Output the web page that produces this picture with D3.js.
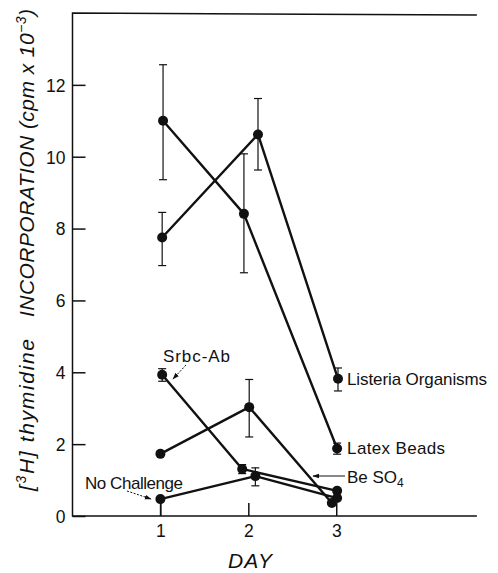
<!DOCTYPE html>
<html>
<head>
<meta charset="utf-8">
<script src="https://cdn.jsdelivr.net/npm/d3@7"></script>
<style>
  html, body { margin: 0; padding: 0; background: #fff; overflow: hidden; }
  svg { display: block; overflow: hidden; }
  text { font-family: "Liberation Sans", Arial, Helvetica, sans-serif; fill: #111; }
</style>
</head>
<body>
<svg id="chart" width="498" height="573"></svg>
<script>
// Day positions and tick labels
const dayTicks = [1, 2, 3];
const yTicks = [0, 2, 4, 6, 8, 10, 12];

// Listeria organisms
const listeriaX  = [1.02, 2.11, 3.02];
const listeriaY  = [7.75, 10.62, 3.82];
const listeriaLo = [6.97, 9.63, 3.48];
const listeriaHi = [8.45, 11.62, 4.12];

// Latex beads
const latexX  = [1.03, 1.95, 3.01];
const latexY  = [11.0, 8.41, 1.88];
const latexLo = [9.36, 6.77, 1.72];
const latexHi = [12.56, 10.08, 2.03];

// Srbc-Ab
const srbcX  = [1.02, 1.93, 3.01];
const srbcY  = [3.93, 1.31, 0.70];
const srbcLo = [3.75, 1.18, null];
const srbcHi = [4.10, 1.43, null];

// BeSO4
const besoX  = [1.0, 2.01, 2.95];
const besoY  = [1.73, 3.03, 0.36];
const besoLo = [null, 2.20, null];
const besoHi = [null, 3.80, null];

// No challenge
const noneX  = [1.0, 2.08, 3.01];
const noneY  = [0.47, 1.11, 0.50];
const noneLo = [0.0, 0.84, null];
const noneHi = [0.47, 1.34, null];

const svg = d3.select("#chart");
const ink = "#111";

const x = d3.scaleLinear().domain([0, 4.84]).range([72.5, 498]);
const y = d3.scaleLinear().domain([0, 14]).range([516, 13]);

// Frame: top rule, left axis and bottom axis as one open path (no right side)
const xEnd = 4.6;
const framePath = d3.path();
framePath.moveTo(x(xEnd), y(14) + 2);
framePath.lineTo(x(0), y(14));
framePath.lineTo(x(0), y(0));
framePath.lineTo(x(xEnd), y(0));
svg.append("path")
  .attr("d", framePath.toString())
  .attr("fill", "none").attr("stroke", ink).attr("stroke-width", 1.5);

// Y axis with inward ticks
const yAxis = d3.axisRight(y).tickValues(yTicks).tickSize(13).tickSizeOuter(0).tickFormat(d3.format("d"));
const gy = svg.append("g").attr("transform", `translate(${x(0)},0)`).call(yAxis);
gy.select(".domain").remove();
gy.selectAll(".tick line").attr("stroke", ink).attr("stroke-width", 1.5);
gy.selectAll(".tick text")
  .attr("x", -7).attr("dy", "0.36em")
  .attr("text-anchor", "end")
  .style("font-size", "17.5px")
  .style("font-family", "'Liberation Sans', Arial, sans-serif")
  .attr("fill", ink);

// X axis with inward ticks
const xAxis = d3.axisTop(x).tickValues(dayTicks).tickSize(13).tickSizeOuter(0).tickFormat(d3.format("d"));
const gx = svg.append("g").attr("transform", `translate(0,${y(0)})`).call(xAxis);
gx.select(".domain").remove();
gx.selectAll(".tick line").attr("stroke", ink).attr("stroke-width", 1.5);
gx.selectAll(".tick text")
  .attr("y", 21).attr("dy", 0)
  .attr("text-anchor", "middle")
  .style("font-size", "17.5px")
  .style("font-family", "'Liberation Sans', Arial, sans-serif")
  .attr("fill", ink);

// Axis titles
svg.append("text")
  .attr("x", 250).attr("y", 568)
  .attr("text-anchor", "middle")
  .style("font-size", "21px").style("font-style", "italic")
  .attr("textLength", 44).attr("lengthAdjust", "spacing")
  .text("DAY");

const yTitle = svg.append("g").attr("transform", "translate(34,0) rotate(-90)");
const t1 = yTitle.append("text")
  .attr("x", -491).attr("y", 0)
  .style("font-size", "21px").style("font-style", "italic")
  .attr("textLength", 152).attr("lengthAdjust", "spacing");
t1.append("tspan").text("[");
t1.append("tspan").attr("dy", -8).style("font-size", "14px").text("3");
t1.append("tspan").attr("dy", 8).text("H] thymidine");

const t2 = yTitle.append("text")
  .attr("x", -317).attr("y", 0)
  .style("font-size", "21px").style("font-style", "italic")
  .attr("textLength", 308).attr("lengthAdjust", "spacing");
t2.append("tspan").text("INCORPORATION (cpm x 10");
t2.append("tspan").attr("dy", -8).style("font-size", "14px").text("\u22123");
t2.append("tspan").attr("dy", 8).text(")");

// Series
const series = [
  { xs: listeriaX, ys: listeriaY, lo: listeriaLo, hi: listeriaHi },
  { xs: latexX, ys: latexY, lo: latexLo, hi: latexHi },
  { xs: srbcX, ys: srbcY, lo: srbcLo, hi: srbcHi },
  { xs: besoX, ys: besoY, lo: besoLo, hi: besoHi },
  { xs: noneX, ys: noneY, lo: noneLo, hi: noneHi }
];

const line = d3.line().x(d => x(d[0])).y(d => y(d[1]));
const plot = svg.append("g");

series.forEach(s => {
  const pts = s.xs.map((xv, i) => [xv, s.ys[i], s.lo[i], s.hi[i]]);
  // error bars
  const eb = plot.append("g").attr("stroke", ink).attr("stroke-width", 1.2);
  pts.filter(p => p[2] !== null).forEach(p => {
    eb.append("line").attr("x1", x(p[0])).attr("x2", x(p[0])).attr("y1", y(p[2])).attr("y2", y(p[3]));
    if (p[2] > 0) eb.append("line").attr("x1", x(p[0]) - 4).attr("x2", x(p[0]) + 4).attr("y1", y(p[2])).attr("y2", y(p[2]));
    eb.append("line").attr("x1", x(p[0]) - 4).attr("x2", x(p[0]) + 4).attr("y1", y(p[3])).attr("y2", y(p[3]));
  });
  plot.append("path").datum(pts).attr("d", line)
    .attr("fill", "none").attr("stroke", ink).attr("stroke-width", 2.4).attr("stroke-linejoin", "round");
  plot.selectAll(null).data(pts).enter().append("circle")
    .attr("cx", d => x(d[0])).attr("cy", d => y(d[1])).attr("r", 5).attr("fill", ink);
});

// Arrowhead marker for leaders
svg.append("defs").append("marker")
  .attr("id", "arrow").attr("viewBox", "0 0 10 10")
  .attr("refX", 9).attr("refY", 5)
  .attr("markerWidth", 7).attr("markerHeight", 7)
  .attr("orient", "auto-start-reverse")
  .append("path").attr("d", "M0,1.5 L10,5 L0,8.5 Z").attr("fill", ink);

const labelFont = "17px";

// Series labels
svg.append("text")
  .attr("x", x(listeriaX[2]) + 9).attr("y", y(listeriaY[2]) + 6)
  .style("font-size", labelFont).attr("textLength", 140).attr("lengthAdjust", "spacing")
  .text("Listeria Organisms");

svg.append("text")
  .attr("x", x(latexX[2]) + 10).attr("y", y(latexY[2]) + 6)
  .style("font-size", labelFont).attr("textLength", 98).attr("lengthAdjust", "spacing")
  .text("Latex Beads");

const beLabel = svg.append("text")
  .attr("x", 347).attr("y", 483)
  .style("font-size", labelFont);
beLabel.append("tspan").text("Be SO");
beLabel.append("tspan").attr("dy", 4).style("font-size", "12px").text("4");

svg.append("line")
  .attr("x1", 345).attr("y1", 476).attr("x2", 313).attr("y2", 476)
  .attr("stroke", ink).attr("stroke-width", 1).attr("marker-end", "url(#arrow)");

svg.append("text")
  .attr("x", 163).attr("y", 362)
  .style("font-size", labelFont).attr("textLength", 67).attr("lengthAdjust", "spacing")
  .text("Srbc-Ab");

svg.append("line")
  .attr("x1", 186).attr("y1", 365).attr("x2", 173).attr("y2", 379)
  .attr("stroke", ink).attr("stroke-width", 1).attr("stroke-dasharray", "2,1.5")
  .attr("marker-end", "url(#arrow)");

svg.append("text")
  .attr("x", 85).attr("y", 489)
  .style("font-size", labelFont).attr("textLength", 98).attr("lengthAdjust", "spacing")
  .text("No Challenge");

svg.append("line")
  .attr("x1", 127).attr("y1", 491).attr("x2", 151).attr("y2", 499)
  .attr("stroke", ink).attr("stroke-width", 1).attr("stroke-dasharray", "2,1.5")
  .attr("marker-end", "url(#arrow)");
</script>
</body>
</html>
